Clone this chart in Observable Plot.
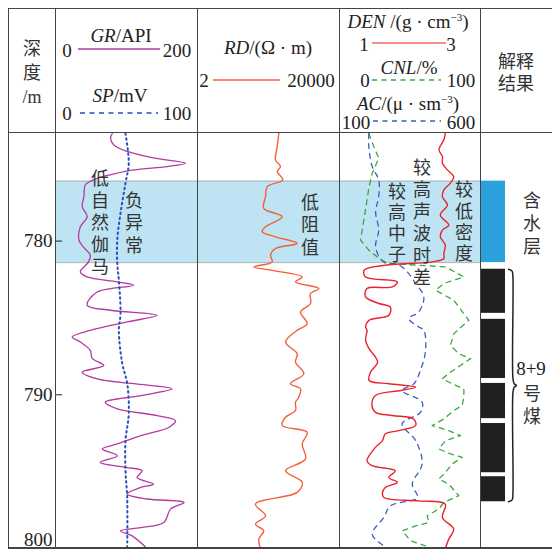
<!DOCTYPE html>
<html><head><meta charset="utf-8">
<script src="https://cdn.jsdelivr.net/npm/d3@7"></script>
<script src="https://cdn.jsdelivr.net/npm/@observablehq/plot@0.6"></script>
<style>
body{margin:0;background:#fff}
#wrap{position:relative;width:552px;height:549px;overflow:hidden;font-family:"Liberation Serif","Times New Roman","DejaVu Serif","Noto Sans CJK SC",serif;color:#222}
.t{position:absolute;white-space:nowrap;font-size:19px;line-height:1;transform:translate(-50%,-50%)}
.v{position:absolute;white-space:pre-line;text-align:center;transform:translateX(-50%);font-family:"Noto Sans CJK SC",sans-serif;color:#333}
.ln{position:absolute;background:#444}
sup{font-size:11px;vertical-align:0;position:relative;top:-7px}
</style></head>
<body><div id="wrap"></div>
<script>
// ---------- data ----------
const depthDomain = [773, 800];
const depthTicks = [780, 790, 800];

const grDepth = [773.0,773.28,773.74,774.17,774.59,774.93,775.15,775.37,775.69,776.02,776.35,777.11,777.76,778.41,779.07,779.93,780.37,780.91,781.35,782.0,782.33,782.65,782.87,783.31,784.17,784.5,784.83,785.26,785.81,786.24,786.57,787.11,787.63,788.09,788.53,788.96,789.28,789.61,790.05,790.48,790.91,791.35,791.68,792.11,792.66,793.2,793.52,793.96,794.4,794.72,794.94,795.38,795.81,796.03,796.46,796.78,797.0,797.44,798.31,798.64,798.85,799.18,800.0];
const grValue = [80,77.5,82,101,138,183,157,110,77,53.5,42,40,37.6,44.6,35,33,39,49,46.5,35,44.6,87,110,58.7,44.6,77.5,143,101,49,23.5,35,49,51.7,68,37.6,58.7,110,164,120,70,87,143,169,160,120,87,66,87,63,98.6,122,115,138,120,101,129,181,162,152.5,120,91.5,108,129];

const spDepth = [773.0,774.93,776.22,778.17,779.93,781.43,782.54,784.7,785.8,787.96,789.26,791.22,792.98,794.94,796.7,800.0];
const spValue = [49.3,51.6,49.3,45.8,43.5,43.5,44.6,45.8,44.6,47,50.5,51.6,49.3,49.3,50.5,50.5];

const rdDepth = [773.0,773.85,774.72,775.15,775.48,776.02,776.46,777.11,777.87,778.41,779.07,779.39,779.72,780.15,780.48,780.91,781.35,781.68,781.89,782.33,782.65,783.09,783.41,784.06,784.61,785.37,785.8,786.57,787.33,787.87,788.63,789.28,789.61,790.16,790.48,791.02,791.46,792.0,792.44,793.2,794.17,794.94,795.7,796.35,797.11,797.87,798.42,798.85,799.39,800.0];
const rdValue = [390,352,315,436,352,506,184,165,147,486,165,133,315,1286,315,228,254,77,228,1778,1152,5224,3048,3048,1594,2460,1286,602,1286,1152,1974,834,1594,1428,1152,1152,602,486,2460,1778,2204,602,1778,1286,86,165,86,147,107,119];

const denDepth = [773.0,773.41,774.06,774.5,774.93,775.37,775.81,776.24,776.67,777.11,777.65,778.3,778.96,779.28,779.72,780.26,780.8,781.13,781.35,781.57,781.89,782.33,782.65,782.98,783.09,783.63,784.06,784.29,784.83,785.15,785.59,785.8,786.46,787.0,787.87,788.53,789.07,789.28,789.5,789.72,790.05,790.7,791.14,791.35,791.57,792.0,792.33,792.54,792.98,793.42,794.29,794.61,794.94,795.38,795.7,796.03,796.35,796.68,796.9,797.11,797.98,798.74,799.39,800.0];
const denValue = [2.50,2.48,2.41,2.46,2.46,2.53,2.62,2.57,2.48,2.46,2.53,2.43,2.55,2.46,2.43,2.50,2.48,2.48,2.32,1.65,1.35,1.37,1.82,1.75,1.39,1.37,1.56,1.72,1.70,1.42,1.37,1.39,1.37,1.42,1.54,1.44,1.42,1.70,2.08,1.87,1.51,1.46,1.51,1.75,2.05,2.08,1.84,1.65,1.61,1.51,1.39,1.46,1.79,1.70,1.82,1.65,1.61,1.63,2.13,2.50,2.46,2.62,2.55,2.50];

const cnlDepth = [773.0,773.85,774.61,775.58,776.56,777.98,779.28,779.93,780.59,781.45,781.57,781.68,782.33,782.76,783.2,783.85,785.15,786.02,786.78,787.33,787.65,788.09,788.53,788.96,789.28,789.61,790.16,790.7,791.02,791.57,792.0,792.33,792.66,792.98,793.52,793.85,794.07,794.5,795.05,795.48,795.81,796.57,797.0,797.44,797.87,798.31,798.53,798.85,799.5,799.83];
const cnlValue = [20.8,24.3,27.9,23.2,20.8,18.4,16.1,14.9,20.8,32.6,56.2,75.2,88.2,74,68.1,81.1,91.7,81.1,78.7,84.6,92.9,85.8,78.7,72.8,79.9,88.2,88.2,87,81.1,74,65.7,77.5,85.8,75.2,70.4,78.7,87,79.9,75.2,70.4,77.5,84.6,74,70.4,62.2,63.3,53.9,44.5,50.4,61];

const acDepth = [773.0,773.85,775.15,776.02,777.11,778.09,779.28,780.37,781.24,781.68,782.76,783.63,784.61,785.04,785.59,785.8,787.11,788.41,789.28,789.72,790.48,791.14,791.89,792.98,794.5,795.81,796.68,797.22,797.98,799.07,799.83];
const acValue = [204,204,216,239,239,228,239,228,251,322,370,399,381,346,381,399,405,387,364,322,393,387,322,370,393,358,376,281,257,216,257];

const waterTop = [776.1];
const waterBottom = [781.4];
const coalTop = [781.83, 785.09, 789.26, 791.87, 795.33];
const coalBottom = [784.70, 788.94, 791.55, 795.07, 796.96];

const scaleGR = [0, 200], scaleSP = [0, 100], scaleRD = [2, 20000];
const scaleDEN = [1, 3], scaleCNL = [0, 100], scaleAC = [100, 600];

// ---------- layout ----------
const wrap = document.getElementById("wrap");
const TOP = 133, H = 415;
const serif = "'Liberation Serif','Times New Roman','DejaVu Serif',serif";
const font = {background: "transparent", overflow: "visible", fontFamily: serif, fontSize: "19px", color: "#222"};

function place(el, left, top) {
  el.style.position = "absolute";
  el.style.left = left + "px";
  el.style.top = top + "px";
  wrap.append(el);
  return el;
}
function trackPlot({left, width, marginLeft = 0, x = {}, yAxis = null, marks}) {
  const svg = Plot.plot({
    width, height: H, marginLeft, marginRight: 0, marginTop: 0, marginBottom: 0,
    x: {axis: null, ...x},
    y: {domain: depthDomain, reverse: true, ...(yAxis === null ? {axis: null} : {})},
    style: font,
    marks
  });
  return place(svg, left, TOP);
}
const line = (depth, value, opts) => Plot.line(depth, {x: value, y: depth, curve: "catmull-rom", strokeWidth: 1.3, ...opts});

// water band across tracks
trackPlot({left: 55, width: 425, marks: [
  Plot.rect(waterTop, {y1: waterTop, y2: waterBottom, fill: "#bee3f2"}),
  Plot.ruleY(waterTop.concat(waterBottom), {stroke: "#a9b4b8", strokeWidth: 1})
]});

// GR track with depth axis
trackPlot({left: 8, width: 189, marginLeft: 47, x: {domain: scaleGR}, yAxis: true, marks: [
  Plot.axisY(depthTicks, {anchor: "left", tickSize: -7, tickFormat: () => "", label: null, stroke: "#222"}),
  Plot.axisY(depthTicks.slice(0, 2), {anchor: "left", tickSize: 0, tickPadding: 3, label: null, fill: "#222"}),
  Plot.axisY(depthTicks.slice(2), {anchor: "left", tickSize: 0, tickPadding: 3, label: null, fill: "#222", dy: -9}),
  line(grDepth, grValue, {stroke: "#b43aa2"})
]});
trackPlot({left: 55, width: 142, x: {domain: scaleSP}, marks: [
  line(spDepth, spValue, {stroke: "#2a4cbd", strokeWidth: 2, strokeDasharray: "1.5,3.5", strokeLinecap: "round"})
]});
// RD
trackPlot({left: 197, width: 142, x: {type: "log", domain: scaleRD}, marks: [
  line(rdDepth, rdValue, {stroke: "#f2603c", strokeWidth: 1.4})
]});
// DEN / CNL / AC
trackPlot({left: 339, width: 141, x: {domain: scaleCNL}, marks: [
  line(cnlDepth, cnlValue, {stroke: "#3aa83e", strokeDasharray: "5,5", strokeWidth: 1.3, curve: "linear"})
]});
trackPlot({left: 339, width: 141, x: {domain: scaleAC}, marks: [
  line(acDepth, acValue, {stroke: "#3a5fc4", strokeDasharray: "5,5", strokeWidth: 1.3})
]});
trackPlot({left: 339, width: 141, x: {domain: scaleDEN}, marks: [
  line(denDepth, denValue, {stroke: "#e8232b", strokeWidth: 1.4})
]});
// interpretation column
trackPlot({left: 481, width: 24, marks: [
  Plot.rect(waterTop, {y1: waterTop, y2: waterBottom, fill: "#2aa0dd"}),
  Plot.rect(coalTop, {y1: coalTop, y2: coalBottom, fill: "#221f20"})
]});
// brace spanning the coal seams
{
  const t = coalTop[0], b = coalBottom[coalBottom.length - 1], m = (t + b) / 2;
  const bx = [0, 0.45, 0.55, 0.55, 0.7, 1, 0.7, 0.55, 0.55, 0.45, 0];
  const by = [t, t + 0.12, t + 0.5, m - 0.5, m - 0.12, m, m + 0.12, m + 0.5, b - 0.5, b - 0.12, b];
  trackPlot({left: 508, width: 8, x: {domain: [0, 1]}, marks: [
    Plot.line(by, {x: bx, y: by, stroke: "#222", strokeWidth: 1.5, curve: "catmull-rom"})
  ]});
}

// ---------- frame lines ----------
function ln(x, y, w, h) { const d = document.createElement("div"); d.className = "ln"; d.style.left = x + "px"; d.style.top = y + "px"; d.style.width = w + "px"; d.style.height = h + "px"; wrap.append(d); }
ln(7.5, 7.5, 545, 1.5);
ln(7.5, 131.5, 545, 1.5);
ln(7.5, 547, 545, 1.5);
for (const x of [7.5, 54.5, 196.5, 338.5, 479.5]) ln(x, 7.5, 1.5, 541);

// ---------- header ----------
function txt(html, cx, cy, extra = "") {
  const s = document.createElement("span"); s.className = "t"; s.innerHTML = html;
  s.style.left = cx + "px"; s.style.top = cy + "px"; if (extra) s.style.cssText += extra; wrap.append(s);
}
const hdr = d3.create("svg").attr("width", 552).attr("height", 132).style("position", "absolute").style("left", "0px").style("top", "0px");
function hl(x1, x2, y, color, dash) { hdr.append("line").attr("x1", x1).attr("x2", x2).attr("y1", y).attr("y2", y).attr("stroke", color).attr("stroke-width", 1.4).attr("stroke-dasharray", dash || null); }
hl(78, 160, 49, "#b43aa2");
hl(80, 158, 113, "#2a4cbd", "5,4.5");
hl(213, 280, 80, "#f2603c");
hl(372, 446, 43, "#f06a6a");
hl(372, 441, 80, "#3aa83e", "5,4.5");
hl(373, 441, 121, "#3a5fc4", "5,4.5");
wrap.append(hdr.node());

// ---------- stacked (vertical) texts ----------
function vtext(lines, cx, firstCy, gap = 22, size = 19, family) {
  const d = document.createElement("div"); d.className = "v";
  d.textContent = lines.join("\n");
  d.style.left = cx + "px"; d.style.top = (firstCy - gap / 2) + "px";
  d.style.lineHeight = gap + "px"; d.style.fontSize = size + "px";
  if (family) d.style.fontFamily = family;
  wrap.append(d);
}
const chars = s => Array.from(s);

vtext(["深", "度", "/m"], 32, 49, 24, 18, "'Liberation Serif','Times New Roman','DejaVu Serif','Noto Sans CJK SC',serif");
txt("<i>GR</i>/API", 121, 35);
txt("0", 67, 50); txt("200", 177, 50);
txt("<i>SP</i>/mV", 120, 95);
txt("0", 67, 113); txt("100", 177, 113);
txt("<i>RD</i>/(Ω · m)", 268, 47);
txt("2", 204, 80); txt("20000", 311, 80);
txt("<i>DEN</i> /(g · cm<sup>−3</sup>)", 408, 21);
txt("1", 364, 44); txt("3", 451, 44);
txt("<i>CNL</i>/%", 409, 67);
txt("0", 365, 80); txt("100", 461, 80);
txt("<i>AC</i>/(μ · sm<sup>−3</sup>)", 408, 103);
txt("100", 356, 122); txt("600", 461, 122);
vtext(["解释", "结果"], 516, 60, 22, 18);

// ---------- annotations ----------
vtext(chars("低自然伽马"), 100, 177, 22, 18);
vtext(chars("负异常"), 134, 199, 22.5, 18);
vtext(chars("低阻值"), 310, 201, 22.5, 18);
vtext(chars("较高中子"), 397, 190, 21, 18);
vtext(chars("较高声波时差"), 422, 166, 22, 18);
vtext(chars("较低密度"), 464, 189, 21.3, 18);
vtext(chars("含水层"), 532, 199, 23, 18);
txt("8+9", 531, 368);
vtext(chars("号煤"), 532, 392, 23, 18);
</script>
</body></html>
